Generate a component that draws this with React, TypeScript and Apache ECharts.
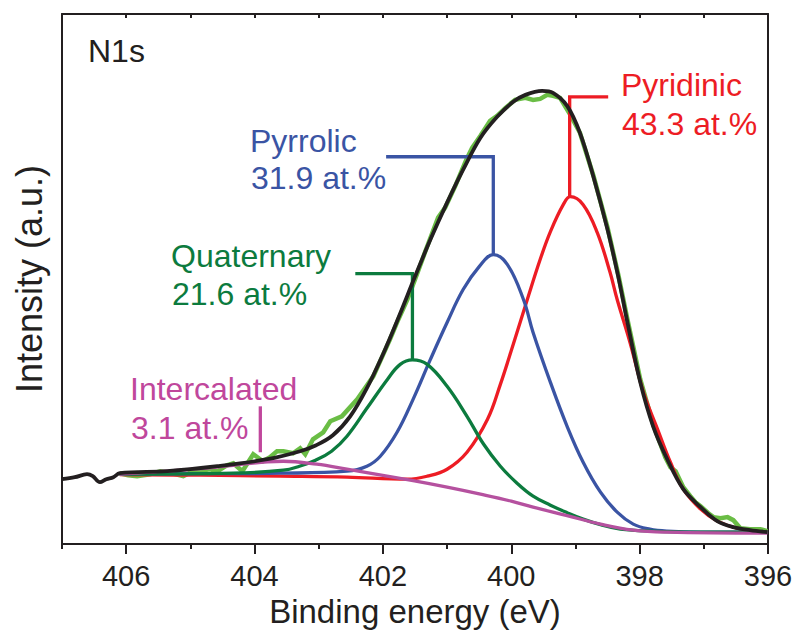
import React, { useEffect, useRef } from "react";
import * as echarts from "echarts";

const FONT = '"Liberation Sans", Arial, Helvetica, sans-serif';
const INK = "#231f20";
const C_RAW = "#6abd45";
const C_PYRIDINIC = "#ed1c24";
const C_PYRROLIC = "#3a54a4";
const C_QUATERNARY = "#0c7b3e";
const C_INTERCALATED = "#b5519f";
const C_INTERCALATED_TEXT = "#c0479c";

// Axis ticks (binding energy, eV)
const majorTicks = [396, 398, 400, 402, 404, 406];
const minorTicks = [397, 399, 401, 403, 405, 407];
const topTicks = [396, 397, 398, 399, 400, 401, 402, 403, 404, 405, 406, 407];

// Raw spectrum (light green)
const rawE = [406.1, 405.97, 405.83, 405.63, 405.47, 405.29, 405.11, 404.96, 404.8, 404.69, 404.58, 404.43, 404.33, 404.19, 404.02, 403.87, 403.76, 403.65, 403.55, 403.4, 403.29, 403.21, 403.09, 402.93, 402.82, 402.64, 402.4, 402.15, 401.89, 401.76, 401.62, 401.5, 401.34, 401.14, 401.03, 400.87, 400.7, 400.61, 400.48, 400.33, 400.22, 400.09, 399.94, 399.78, 399.66, 399.55, 399.44, 399.35, 399.24, 399.08, 398.93, 398.72, 398.5, 398.33, 398.19, 397.99, 397.79, 397.6, 397.52, 397.44, 397.32, 397.21, 397.13, 397.05, 396.93, 396.85, 396.74, 396.63, 396.54, 396.43, 396.28, 396.12, 396.01];
const rawI = [71, 69, 68, 70, 73, 71, 68, 73, 74, 75, 73, 79, 81, 73, 90, 83, 87, 93, 93, 91, 96, 90, 105, 112, 123, 128, 145, 168, 205, 225, 245, 265, 293, 327, 337, 359, 385, 397, 409, 424, 429, 437, 445, 447, 445, 446, 450, 449, 447, 430, 412, 369, 317, 269, 225, 165, 120, 87, 77, 73, 57, 48, 42, 38, 31, 27, 26, 27, 24, 16, 15, 15, 13];

// Fitted envelope (black)
const fitE = [407.0, 406.8, 406.61, 406.52, 406.41, 406.31, 406.2, 406.1, 405.36, 404.58, 403.8, 403.29, 403.04, 402.78, 402.51, 402.26, 402.0, 401.75, 401.5, 401.26, 401.0, 400.75, 400.48, 400.22, 399.97, 399.78, 399.52, 399.35, 399.13, 398.93, 398.72, 398.5, 398.33, 398.19, 397.99, 397.79, 397.57, 397.32, 397.05, 396.79, 396.54, 396.28, 396.01];
const fitI = [65, 67, 70, 68, 62, 65, 67, 71, 73, 78, 85, 93, 99, 109, 128, 155, 190, 228, 268, 305, 342, 375, 407, 428, 443, 450, 454, 452, 439, 412, 368, 315, 267, 222, 162, 118, 85, 55, 37, 23, 17, 14, 12];

// Pyridinic component (red)
const pyridinicE = [406.1, 404.85, 403.6, 402.56, 401.62, 401.31, 401.0, 400.69, 400.37, 400.17, 399.97, 399.75, 399.55, 399.39, 399.19, 399.08, 398.88, 398.66, 398.46, 398.35, 398.15, 397.94, 397.72, 397.52, 397.32, 397.05, 396.79, 396.43, 396.01];
const pyridinicI = [69.5, 69, 68, 67, 65, 68, 75, 92, 125, 160, 200, 245, 285, 313, 340, 348, 340, 312, 272, 245, 202, 152, 115, 82, 55, 35, 23, 15, 12];

// Pyrrolic component (blue)
const pyrrolicE = [406.1, 404.85, 403.6, 402.56, 402.25, 402.04, 401.78, 401.53, 401.26, 401.0, 400.75, 400.5, 400.28, 400.06, 399.81, 399.66, 399.39, 399.13, 398.88, 398.61, 398.35, 398.1, 397.84, 397.57, 397.05, 396.01];
const pyrrolicI = [70, 70.5, 71, 73, 78, 88, 112, 145, 185, 222, 255, 278, 290, 280, 245, 212, 162, 118, 82, 52, 32, 20, 15, 13, 12, 12];

// Quaternary component (dark green)
const quaternaryE = [406.1, 404.33, 403.55, 403.3, 403.05, 402.8, 402.56, 402.25, 401.93, 401.73, 401.54, 401.31, 401.0, 400.69, 400.43, 400.17, 399.91, 399.66, 399.39, 399.13, 398.88, 398.61, 398.3, 397.83, 397.05, 396.01];
const quaternaryI = [70, 71, 74, 78, 84, 93, 108, 136, 165, 180, 184.5, 180, 158, 128, 100, 78, 61, 48, 39, 31.5, 25, 19.5, 15, 13, 12, 12];

// Intercalated component (purple)
const intercalatedE = [406.1, 405.63, 404.85, 404.33, 403.8, 403.55, 403.03, 402.56, 402.25, 401.53, 401.0, 400.48, 400.0, 399.66, 399.13, 398.61, 398.1, 397.57, 396.01];
const intercalatedI = [70, 72, 75.5, 79, 82.5, 83, 80, 75, 71.5, 63.5, 57, 50, 43, 37, 28.5, 20, 14, 12, 11];

// Leader lines (label -> peak)
const pyrrolicLeaderE = [401.95, 400.28, 400.28];
const pyrrolicLeaderI = [388, 388, 290];
const quaternaryLeaderE = [402.43, 401.54, 401.54];
const quaternaryLeaderI = [271, 271, 185];
const pyridinicLeaderE = [398.49, 399.09, 399.09];
const pyridinicLeaderI = [448, 448, 348];
const intercalatedLeaderE = [403.91, 403.91];
const intercalatedLeaderI = [138, 92];

const zip = (xs: number[], ys: number[]) => xs.map((x, i) => [x, ys[i]]);

const curve = (name: string, xs: number[], ys: number[], color: string, width: number, smooth: boolean | number) => ({
  type: "line",
  name,
  data: zip(xs, ys),
  xAxisIndex: 0,
  yAxisIndex: 0,
  showSymbol: false,
  symbol: "none",
  smooth,
  silent: true,
  emphasis: { disabled: true },
  lineStyle: { color, width, cap: "butt", join: "miter" },
});

const xBase = {
  type: "value",
  min: 396,
  max: 407,
  inverse: true,
  splitLine: { show: false },
};

const axisLineStyle = { color: INK, width: 2 };

const label = (text: string, x: number, y: number, color: string, size = 32) => ({
  type: "text",
  x,
  y,
  silent: true,
  style: { text, fill: color, fontSize: size, fontFamily: FONT, align: "left", verticalAlign: "middle" },
});

export default function App() {
  const ref = useRef<HTMLDivElement>(null);
  useEffect(() => {
    const chart = echarts.init(ref.current as HTMLDivElement, null, { renderer: "svg" });
    const option: any = {
      animation: false,
      backgroundColor: "#ffffff",
      textStyle: { fontFamily: FONT },
      grid: { left: 62, right: 30, top: 14, bottom: 88, containLabel: false },
      xAxis: [
        {
          ...xBase,
          position: "bottom",
          interval: 1,
          axisLine: { show: true, onZero: false, lineStyle: axisLineStyle },
          axisTick: { show: true, inside: false, length: 5, customValues: minorTicks, lineStyle: axisLineStyle },
          axisLabel: {
            show: true,
            margin: 17,
            fontSize: 29,
            color: INK,
            fontFamily: FONT,
            customValues: majorTicks,
            formatter: (v: number) => (majorTicks.indexOf(v) >= 0 ? String(v) : ""),
          },
          name: "Binding energy (eV)",
          nameLocation: "middle",
          nameGap: 50,
          nameTextStyle: { fontSize: 33, color: INK, fontFamily: FONT },
        },
        {
          ...xBase,
          position: "bottom",
          interval: 2,
          axisLine: { show: false, onZero: false },
          axisTick: { show: true, inside: false, length: 10, customValues: majorTicks, lineStyle: axisLineStyle },
          axisLabel: { show: false },
        },
        {
          ...xBase,
          position: "top",
          interval: 1,
          axisLine: { show: true, onZero: false, lineStyle: axisLineStyle },
          axisTick: { show: true, inside: true, length: 4, customValues: topTicks, lineStyle: axisLineStyle },
          axisLabel: { show: false },
        },
      ],
      yAxis: [
        {
          type: "value",
          min: 0,
          max: 531,
          position: "left",
          axisLine: { show: true, onZero: false, lineStyle: axisLineStyle },
          axisTick: { show: false },
          axisLabel: { show: false },
          splitLine: { show: false },
          name: "Intensity (a.u.)",
          nameLocation: "middle",
          nameGap: 15,
          nameTextStyle: { fontSize: 36, color: INK, fontFamily: FONT },
        },
        {
          type: "value",
          min: 0,
          max: 531,
          position: "right",
          axisLine: { show: true, onZero: false, lineStyle: axisLineStyle },
          axisTick: { show: false },
          axisLabel: { show: false },
          splitLine: { show: false },
        },
      ],
      series: [
        curve("Raw", rawE, rawI, C_RAW, 4.5, false),
        curve("Pyridinic", pyridinicE, pyridinicI, C_PYRIDINIC, 3.3, 0.4),
        curve("Pyrrolic", pyrrolicE, pyrrolicI, C_PYRROLIC, 3.3, 0.4),
        curve("Quaternary", quaternaryE, quaternaryI, C_QUATERNARY, 3.3, 0.4),
        curve("Intercalated", intercalatedE, intercalatedI, C_INTERCALATED, 3.3, 0.4),
        curve("Pyrrolic leader", pyrrolicLeaderE, pyrrolicLeaderI, C_PYRROLIC, 3.3, false),
        curve("Quaternary leader", quaternaryLeaderE, quaternaryLeaderI, C_QUATERNARY, 3.3, false),
        curve("Pyridinic leader", pyridinicLeaderE, pyridinicLeaderI, C_PYRIDINIC, 3.3, false),
        curve("Intercalated leader", intercalatedLeaderE, intercalatedLeaderI, C_INTERCALATED_TEXT, 3.3, false),
        curve("Fit", fitE, fitI, INK, 3.8, 0.35),
      ],
      graphic: [
        label("N1s", 88, 50.5, INK),
        label("Pyrrolic", 250, 140.5, C_PYRROLIC),
        label("31.9 at.%", 251, 178, C_PYRROLIC),
        label("Quaternary", 171, 255.5, C_QUATERNARY),
        label("21.6 at.%", 172, 294, C_QUATERNARY),
        label("Pyridinic", 621, 85, C_PYRIDINIC),
        label("43.3 at.%", 622, 124, C_PYRIDINIC),
        label("Intercalated", 130, 389, C_INTERCALATED_TEXT),
        label("3.1 at.%", 131, 427.5, C_INTERCALATED_TEXT),
      ],
    };
    chart.setOption(option);
    return () => chart.dispose();
  }, []);
  return (
    <div
      ref={ref}
      style={{ position: "absolute", left: 0, top: 0, width: 798, height: 633, background: "#ffffff" }}
    />
  );
}
